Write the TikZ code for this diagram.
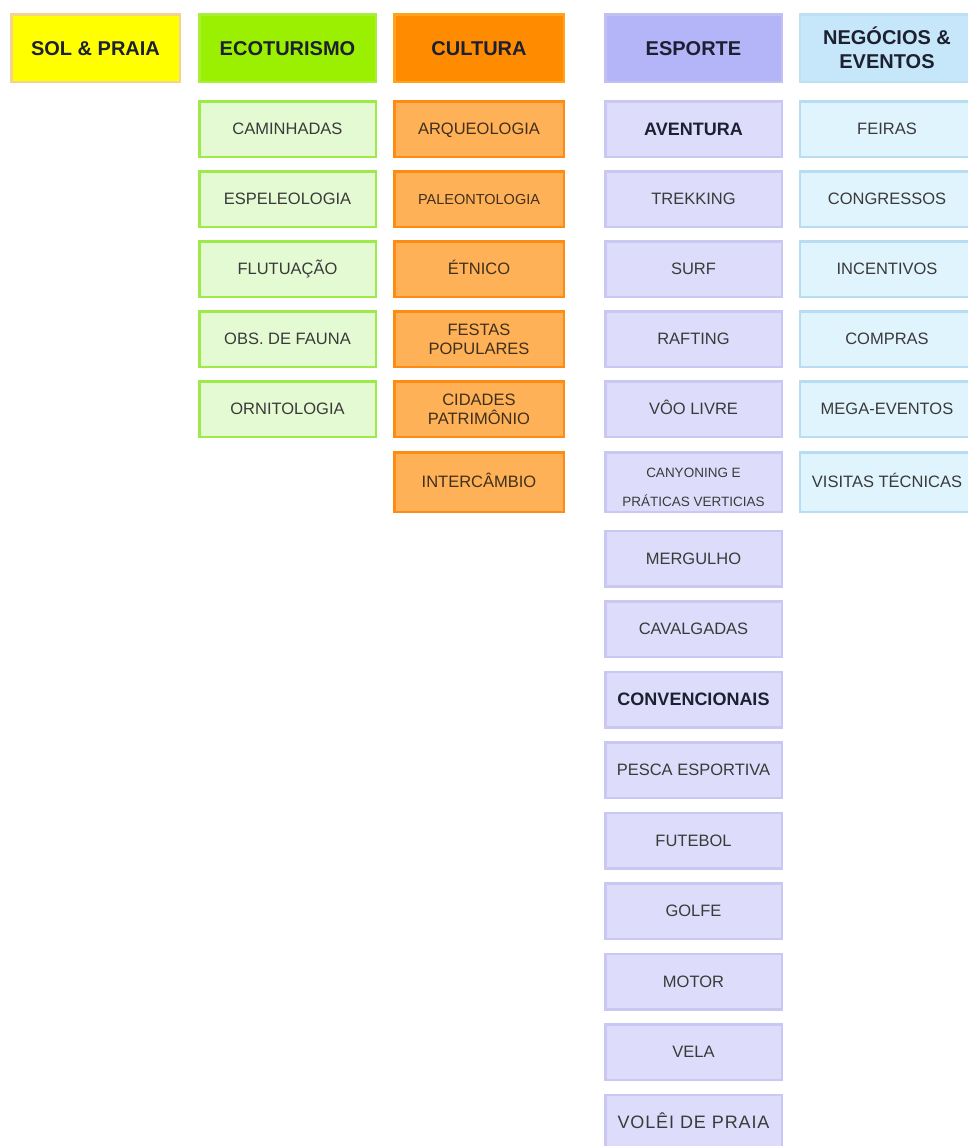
\documentclass[tikz,border=0pt]{standalone}
\usepackage{fontspec}
\setmainfont{Liberation Sans}
\definecolor{solfill}{HTML}{FFFF00}
\definecolor{soldraw}{HTML}{F4D48C}
\definecolor{ecohfill}{HTML}{9AF000}
\definecolor{ecohdraw}{HTML}{A8EE3A}
\definecolor{culhfill}{HTML}{FF8C00}
\definecolor{culhdraw}{HTML}{FFA31A}
\definecolor{esphfill}{HTML}{B4B4F8}
\definecolor{esphdraw}{HTML}{C0C0F2}
\definecolor{neghfill}{HTML}{C6E7F9}
\definecolor{neghdraw}{HTML}{BEE0F4}
\definecolor{ecosfill}{HTML}{E3FAD2}
\definecolor{ecosdraw}{HTML}{9EEA4A}
\definecolor{culsfill}{HTML}{FFB158}
\definecolor{culsdraw}{HTML}{FF8C12}
\definecolor{espsfill}{HTML}{DDDDFB}
\definecolor{espsdraw}{HTML}{C8C8F2}
\definecolor{negsfill}{HTML}{E0F4FD}
\definecolor{negsdraw}{HTML}{B8DDF2}
\definecolor{hdrtext}{HTML}{1C2030}
\definecolor{subtext}{HTML}{3A3A3A}
\definecolor{cultext}{HTML}{40301C}
\tikzset{
  box/.style={rectangle, line width=2.5pt, align=center, inner sep=0pt},
  hdr/.style={box, minimum height=67.5pt, font=\fontsize{20}{24}\selectfont\bfseries, text=hdrtext, text height=14.3pt, text depth=0pt},
  sub/.style={box, minimum height=55.5pt, font=\fontsize{16.5}{19}\selectfont, text=subtext, text height=11.8pt, text depth=0pt},
  multi/.style={text height={}, text depth={}},
  tall/.style={minimum height=59.5pt},
  colA/.style={minimum width=168.5pt},
  colB/.style={minimum width=176.5pt},
  colC/.style={minimum width=169.5pt},
  colD/.style={minimum width=176.5pt},
  colE/.style={minimum width=174pt},
  solh/.style={hdr, colA, fill=solfill, draw=soldraw},
  ecoh/.style={hdr, colB, fill=ecohfill, draw=ecohdraw},
  culh/.style={hdr, colC, fill=culhfill, draw=culhdraw},
  esph/.style={hdr, colD, fill=esphfill, draw=esphdraw},
  negh/.style={hdr, colE, fill=neghfill, draw=neghdraw},
  ecos/.style={sub, colB, fill=ecosfill, draw=ecosdraw},
  culs/.style={sub, colC, fill=culsfill, draw=culsdraw, text=cultext},
  esps/.style={sub, colD, fill=espsfill, draw=espsdraw},
  negs/.style={sub, colE, fill=negsfill, draw=negsdraw},
  boldsub/.style={font=\fontsize{18}{21}\selectfont\bfseries, text=hdrtext, text height=12.9pt}
}
\begin{document}
\begin{tikzpicture}[x=1pt,y=-1pt]
\useasboundingbox (0,0) rectangle (968,1146);
\fill[white] (0,0) rectangle (968,1146);
% headers
\node[solh] (sol) at (95.5,48) {SOL \& PRAIA};
\node[ecoh] (eco) at (287.5,48) {ECOTURISMO};
\node[culh] (cul) at (479,48) {CULTURA};
\node[esph] (esp) at (693.5,48) {ESPORTE};
\node[negh, multi] (neg) at (887,48) {NEGÓCIOS \&\\EVENTOS};
% ecoturismo
\node[ecos] (eco1) at (287.5,129) {CAMINHADAS};
\node[ecos] (eco2) at (287.5,199) {ESPELEOLOGIA};
\node[ecos] (eco3) at (287.5,269) {FLUTUAÇÃO};
\node[ecos] (eco4) at (287.5,339) {OBS. DE FAUNA};
\node[ecos] (eco5) at (287.5,409) {ORNITOLOGIA};
% cultura
\node[culs] (cul1) at (479,129) {ARQUEOLOGIA};
\node[culs, font=\fontsize{14.5}{17}\selectfont, text height=10.4pt] (cul2) at (479,199) {PALEONTOLOGIA};
\node[culs] (cul3) at (479,269) {ÉTNICO};
\node[culs, multi] (cul4) at (479,339) {FESTAS\\POPULARES};
\node[culs, multi] (cul5) at (479,409) {CIDADES\\PATRIMÔNIO};
\node[culs, tall] (cul6) at (479,482) {INTERCÂMBIO};
% esporte
\node[esps, boldsub] (esp1) at (693.5,129) {AVENTURA};
\node[esps] (esp2) at (693.5,199) {TREKKING};
\node[esps] (esp3) at (693.5,269) {SURF};
\node[esps] (esp4) at (693.5,339) {RAFTING};
\node[esps] (esp5) at (693.5,409) {VÔO LIVRE};
\node[esps, tall, multi, font=\fontsize{13.5}{29}\selectfont] (esp6) at (693.5,482) {\raisebox{-4.5pt}[\height][\depth]{\begin{tabular}{@{}c@{}}CANYONING E\\PRÁTICAS VERTICIAS\end{tabular}}};
\node[esps] (esp7) at (693.5,558.5) {MERGULHO};
\node[esps] (esp8) at (693.5,629) {CAVALGADAS};
\node[esps, boldsub] (esp9) at (693.5,699.5) {CONVENCIONAIS};
\node[esps] (esp10) at (693.5,770) {PESCA ESPORTIVA};
\node[esps] (esp11) at (693.5,840.5) {FUTEBOL};
\node[esps] (esp12) at (693.5,911) {GOLFE};
\node[esps] (esp13) at (693.5,981.5) {MOTOR};
\node[esps] (esp14) at (693.5,1052) {VELA};
\node[esps, font=\fontsize{18}{21}\selectfont\addfontfeatures{LetterSpace=5}, text height=12.9pt] (esp15) at (693.5,1122.5) {VOLÊI DE PRAIA};
% negocios
\node[negs] (neg1) at (887,129) {FEIRAS};
\node[negs] (neg2) at (887,199) {CONGRESSOS};
\node[negs] (neg3) at (887,269) {INCENTIVOS};
\node[negs] (neg4) at (887,339) {COMPRAS};
\node[negs] (neg5) at (887,409) {MEGA-EVENTOS};
\node[negs, tall] (neg6) at (887,482) {VISITAS TÉCNICAS};
\end{tikzpicture}
\end{document}
